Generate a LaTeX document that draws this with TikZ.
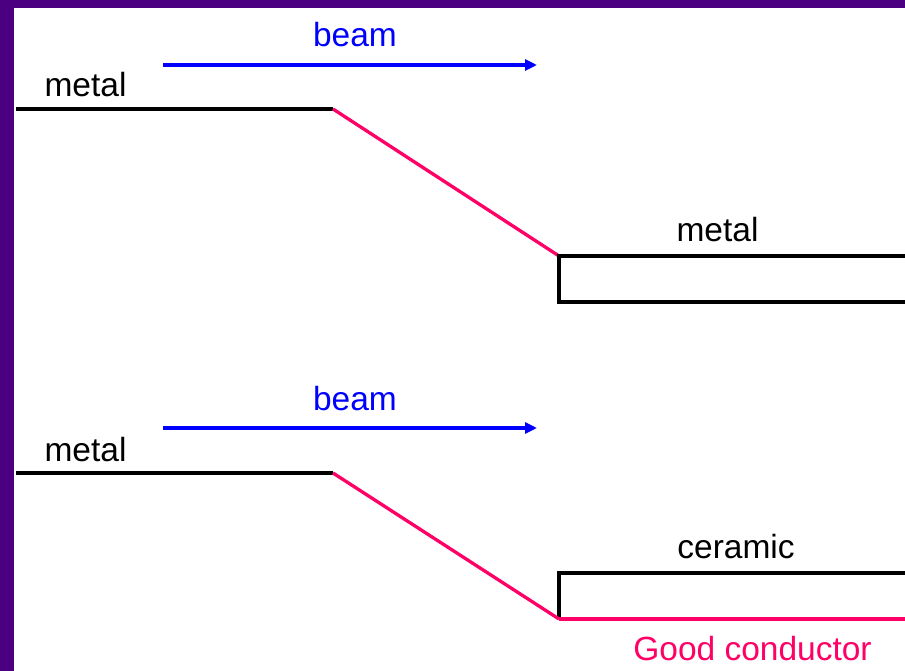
\documentclass[tikz,border=0pt]{standalone}
\usepackage{fontspec}
\setmainfont{Liberation Sans}
\usetikzlibrary{arrows.meta}
\definecolor{frame}{HTML}{4B0082}
\definecolor{hot}{HTML}{FF0066}
\definecolor{beamblue}{HTML}{0000FF}
\begin{document}
\begin{tikzpicture}[x=1pt,y=-1pt,
  lbl/.style={anchor=base,inner sep=0pt,font=\fontsize{33.5}{36}\selectfont},
  solid/.style={draw=black,line width=4pt},
  slope/.style={draw=hot,line width=3.3pt},
  beamarrow/.style={draw=beamblue,line width=3.6pt,-{Triangle[length=12pt,width=11pt]}}]
% page and frame
\fill[frame] (0,0) rectangle (905,671);
\fill[white] (14,8) rectangle (905,671);
\useasboundingbox (0,0) rectangle (905,671);

% ---- upper case: metal onto metal ----
\coordinate (a0) at (16,109);
\coordinate (a1) at (333,109);
\coordinate (a2) at (559,256);
\coordinate (a3) at (905,256);
\coordinate (a4) at (559,302);
\coordinate (a5) at (905,302);
\coordinate (ab0) at (163,65);
\coordinate (ab1) at (537,65);
\node[lbl] (m1) at (85.5,97) {metal};
\node[lbl,text=beamblue] (b1) at (355,47) {beam};
\node[lbl] (m2) at (717.5,242) {metal};
\draw[beamarrow] (ab0) -- (ab1);
\draw[solid] (a0) -- (a1);
\draw[slope] (a1) -- (a2);
\draw[solid,line join=miter] (a3) -- (a2) -- (a4) -- (a5);

% ---- lower case: metal onto ceramic ----
\coordinate (c0) at (16,473);
\coordinate (c1) at (333,473);
\coordinate (c2) at (559,619);
\coordinate (c3) at (905,619);
\coordinate (c4) at (559,573);
\coordinate (c5) at (905,573);
\coordinate (cb0) at (163,428);
\coordinate (cb1) at (537,428);
\node[lbl] (m3) at (85.5,461) {metal};
\node[lbl,text=beamblue] (b2) at (355,410) {beam};
\node[lbl] (cer) at (736,558) {ceramic};
\node[lbl,text=hot] (gc) at (752.5,660) {Good conductor};
\draw[beamarrow] (cb0) -- (cb1);
\draw[solid] (c0) -- (c1);
\draw[solid,line join=miter] (c5) -- (c4) -- (c2);
\draw[slope] (c1) -- (c2);
\draw[draw=hot,line width=4pt] (c2) -- (c3);
\end{tikzpicture}
\end{document}
